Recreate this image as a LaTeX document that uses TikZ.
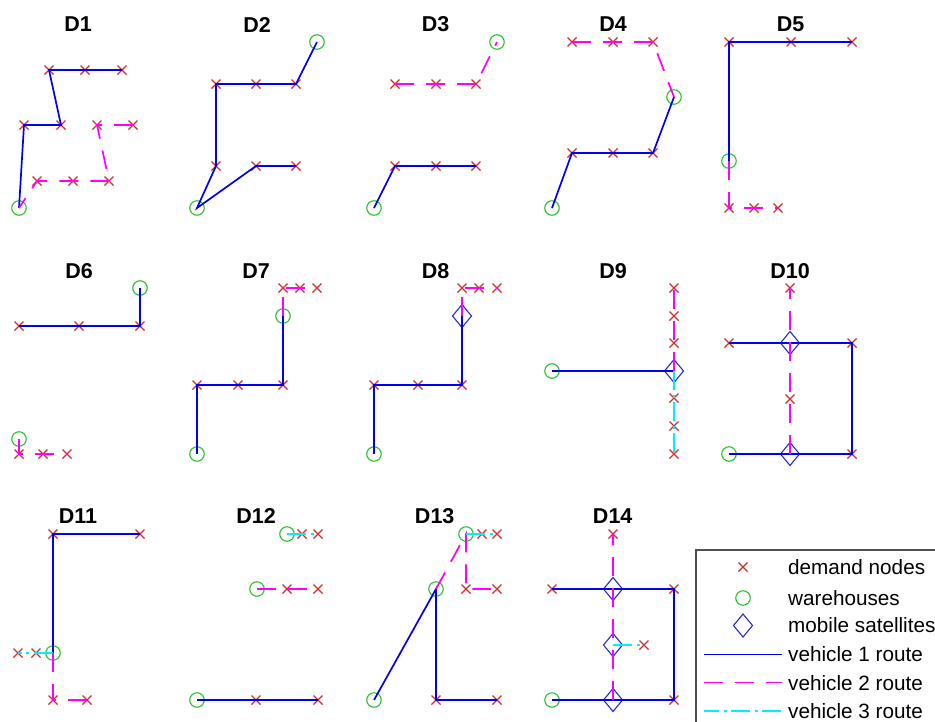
\documentclass[tikz,border=0pt]{standalone}
\usepackage{fontspec}
\setmainfont{Liberation Sans}
\usetikzlibrary{shapes.misc,shapes.geometric}
\definecolor{xred}{RGB}{215,45,45}
\definecolor{wgreen}{RGB}{45,195,45}
\definecolor{vblue}{RGB}{0,0,245}
\definecolor{sblue}{RGB}{40,40,220}
\definecolor{vmag}{RGB}{255,0,255}
\definecolor{vcyan}{RGB}{0,240,255}
\definecolor{boxgray}{RGB}{80,80,80}
\tikzset{
  dem/.style={cross out,draw=xred,line width=1.1pt,minimum size=9pt,inner sep=0pt,outer sep=0pt},
  wh/.style={circle,draw=wgreen,line width=1.1pt,minimum size=14.5pt,inner sep=0pt,outer sep=0pt},
  sat/.style={diamond,draw=sblue,line width=1.1pt,minimum width=19pt,minimum height=23pt,inner sep=0pt,outer sep=0pt},
  vone/.style={draw=vblue,line width=1.7pt},
  vtwo/.style={draw=vmag,line width=1.7pt,dash pattern=on 19pt off 12pt},
  vthree/.style={draw=vcyan,line width=1.7pt,dash pattern=on 19pt off 5pt on 3pt off 4pt},
  ttl/.style={font=\fontsize{21.5}{24}\selectfont\bfseries,inner sep=0pt,anchor=center},
  lgd/.style={font=\fontsize{20.7}{24}\selectfont,inner sep=0pt,anchor=west}
}
\begin{document}
\begin{tikzpicture}[x=1pt,y=-1pt]
\useasboundingbox (0,0) rectangle (935,721);
\fill[white] (0,0) rectangle (935,721);
% titles
\node[ttl] (t1) at (78,24.5) {D1};
\node[ttl] (t2) at (257,24.5) {D2};
\node[ttl] (t3) at (435.5,24.5) {D3};
\node[ttl] (t4) at (613,24.5) {D4};
\node[ttl] (t5) at (790.5,24.5) {D5};
\node[ttl] (t6) at (79,271) {D6};
\node[ttl] (t7) at (256,271) {D7};
\node[ttl] (t8) at (435.5,271) {D8};
\node[ttl] (t9) at (613,271) {D9};
\node[ttl] (t10) at (790,271) {D10};
\node[ttl] (t11) at (78,516) {D11};
\node[ttl] (t12) at (256,516) {D12};
\node[ttl] (t13) at (434.7,516) {D13};
\node[ttl] (t14) at (612.7,516) {D14};
% ---------- D1
\node[wh] (w1a) at (19,208) {};
\node[dem] (d1a) at (49,70) {};
\node[dem] (d1b) at (85,70) {};
\node[dem] (d1c) at (122,70) {};
\node[dem] (d1d) at (24,125) {};
\node[dem] (d1e) at (61,125) {};
\node[dem] (d1f) at (97,125) {};
\node[dem] (d1g) at (133,125) {};
\node[dem] (d1h) at (37,181) {};
\node[dem] (d1i) at (73,181) {};
\node[dem] (d1j) at (109,181) {};
\draw[vone] (w1a.center) -- (d1d.center) -- (d1e.center) -- (d1a.center) -- (d1b.center) -- (d1c.center);
\draw[vtwo] (d1g.center) -- (d1f.center) -- (d1j.center) -- (d1i.center) -- (d1h.center) -- (w1a.center);
% ---------- D2
\node[wh] (w2a) at (317,42) {};
\node[wh] (w2b) at (197,208) {};
\node[dem] (d2a) at (216,84) {};
\node[dem] (d2b) at (256,84) {};
\node[dem] (d2c) at (296,84) {};
\node[dem] (d2d) at (216,166) {};
\node[dem] (d2e) at (256,166) {};
\node[dem] (d2f) at (296,166) {};
\draw[vone] (w2a.center) -- (d2c.center) -- (d2b.center) -- (d2a.center) -- (d2d.center) -- (w2b.center) -- (d2e.center) -- (d2f.center);
% ---------- D3
\node[wh] (w3a) at (497,42) {};
\node[wh] (w3b) at (374,208) {};
\node[dem] (d3a) at (395,84) {};
\node[dem] (d3b) at (436,84) {};
\node[dem] (d3c) at (476,84) {};
\node[dem] (d3d) at (395,166) {};
\node[dem] (d3e) at (436,166) {};
\node[dem] (d3f) at (476,166) {};
\draw[vtwo] (d3a.center) -- (d3b.center) -- (d3c.center) -- (w3a.center);
\draw[vone] (w3b.center) -- (d3d.center) -- (d3e.center) -- (d3f.center);
% ---------- D4
\node[wh] (w4a) at (674,97) {};
\node[wh] (w4b) at (552,208) {};
\node[dem] (d4a) at (572,42) {};
\node[dem] (d4b) at (613,42) {};
\node[dem] (d4c) at (653,42) {};
\node[dem] (d4d) at (572,153) {};
\node[dem] (d4e) at (613,153) {};
\node[dem] (d4f) at (653,153) {};
\draw[vtwo] (d4a.center) -- (d4b.center) -- (d4c.center) -- (w4a.center);
\draw[vone] (w4a.center) -- (d4f.center) -- (d4e.center) -- (d4d.center) -- (w4b.center);
% ---------- D5
\node[wh] (w5a) at (729,161) {};
\node[dem] (d5a) at (729,42) {};
\node[dem] (d5b) at (791,42) {};
\node[dem] (d5c) at (852,42) {};
\node[dem] (d5d) at (729,208) {};
\node[dem] (d5e) at (754,208) {};
\node[dem] (d5f) at (778,208) {};
\draw[vone] (w5a.center) -- (d5a.center) -- (d5b.center) -- (d5c.center);
\draw[vtwo] (w5a.center) -- (d5d.center) -- (d5e.center) -- (d5f.center);
% ---------- D6
\node[wh] (w6a) at (140,288) {};
\node[wh] (w6b) at (19,439) {};
\node[dem] (d6a) at (19,326) {};
\node[dem] (d6b) at (79,326) {};
\node[dem] (d6c) at (140,326) {};
\node[dem] (d6d) at (19,454) {};
\node[dem] (d6e) at (43,454) {};
\node[dem] (d6f) at (67,454) {};
\draw[vone] (w6a.center) -- (d6c.center) -- (d6b.center) -- (d6a.center);
\draw[vtwo] (w6b.center) -- (d6d.center) -- (d6e.center) -- (d6f.center);
% ---------- D7
\node[wh] (w7a) at (283,316) {};
\node[wh] (w7b) at (197,454) {};
\node[dem] (d7a) at (283,288) {};
\node[dem] (d7b) at (300,288) {};
\node[dem] (d7c) at (317,288) {};
\node[dem] (d7d) at (197,385) {};
\node[dem] (d7e) at (238,385) {};
\node[dem] (d7f) at (283,385) {};
\draw[vone] (w7a.center) -- (d7f.center) -- (d7e.center) -- (d7d.center) -- (w7b.center);
\draw[vtwo] (w7a.center) -- (d7a.center) -- (d7b.center) -- (d7c.center);
% ---------- D8
\node[sat] (s8a) at (462,316) {};
\node[wh] (w8a) at (374,454) {};
\node[dem] (d8a) at (462,288) {};
\node[dem] (d8b) at (479,288) {};
\node[dem] (d8c) at (497,288) {};
\node[dem] (d8d) at (374,385) {};
\node[dem] (d8e) at (418,385) {};
\node[dem] (d8f) at (462,385) {};
\draw[vone] (s8a.center) -- (d8f.center) -- (d8e.center) -- (d8d.center) -- (w8a.center);
\draw[vtwo] (s8a.center) -- (d8a.center) -- (d8b.center) -- (d8c.center);
% ---------- D9
\node[wh] (w9a) at (552,371) {};
\node[sat] (s9a) at (674,371) {};
\node[dem] (d9a) at (674,288) {};
\node[dem] (d9b) at (674,316) {};
\node[dem] (d9c) at (674,343) {};
\node[dem] (d9d) at (674,398) {};
\node[dem] (d9e) at (674,426) {};
\node[dem] (d9f) at (674,454) {};
\draw[vone] (w9a.center) -- (s9a.center);
\draw[vtwo] (s9a.center) -- (d9c.center) -- (d9b.center) -- (d9a.center);
\draw[vthree] (s9a.center) -- (d9d.center) -- (d9e.center) -- (d9f.center);
% ---------- D10
\node[wh] (w10a) at (729,454) {};
\node[sat] (s10a) at (790,343) {};
\node[sat] (s10b) at (790,454) {};
\node[dem] (d10a) at (790,288) {};
\node[dem] (d10b) at (729,343) {};
\node[dem] (d10c) at (852,343) {};
\node[dem] (d10d) at (790,399) {};
\node[dem] (d10e) at (852,454) {};
\draw[vone] (d10b.center) -- (s10a.center) -- (d10c.center) -- (d10e.center) -- (s10b.center) -- (w10a.center);
\draw[vtwo] (s10b.center) -- (d10d.center) -- (s10a.center) -- (d10a.center);
% ---------- D11
\node[wh] (w11a) at (53,653) {};
\node[dem] (d11a) at (53,534) {};
\node[dem] (d11b) at (140,534) {};
\node[dem] (d11c) at (36,653) {};
\node[dem] (d11d) at (18,653) {};
\node[dem] (d11e) at (53,700) {};
\node[dem] (d11f) at (87,700) {};
\draw[vone] (w11a.center) -- (d11a.center) -- (d11b.center);
\draw[vthree] (w11a.center) -- (d11c.center) -- (d11d.center);
\draw[vtwo] (w11a.center) -- (d11e.center) -- (d11f.center);
% ---------- D12
\node[wh] (w12a) at (287,534) {};
\node[wh] (w12b) at (257,589) {};
\node[wh] (w12c) at (197,700) {};
\node[dem] (d12a) at (302,534) {};
\node[dem] (d12b) at (318,534) {};
\node[dem] (d12c) at (287,589) {};
\node[dem] (d12d) at (318,589) {};
\node[dem] (d12e) at (256,700) {};
\node[dem] (d12f) at (318,700) {};
\draw[vthree] (w12a.center) -- (d12a.center) -- (d12b.center);
\draw[vtwo] (w12b.center) -- (d12c.center) -- (d12d.center);
\draw[vone] (w12c.center) -- (d12e.center) -- (d12f.center);
% ---------- D13
\node[wh] (w13a) at (466,534) {};
\node[wh] (w13b) at (436,589) {};
\node[wh] (w13c) at (374,700) {};
\node[dem] (d13a) at (482,534) {};
\node[dem] (d13b) at (497,534) {};
\node[dem] (d13c) at (466,589) {};
\node[dem] (d13d) at (497,589) {};
\node[dem] (d13e) at (436,700) {};
\node[dem] (d13f) at (497,700) {};
\draw[vone] (w13c.center) -- (w13b.center) -- (d13e.center) -- (d13f.center);
\draw[vtwo] (w13b.center) -- (w13a.center) -- (d13c.center) -- (d13d.center);
\draw[vthree] (w13a.center) -- (d13a.center) -- (d13b.center);
% ---------- D14
\node[wh] (w14a) at (552,700) {};
\node[sat] (s14a) at (613,589) {};
\node[sat] (s14b) at (613,645) {};
\node[sat] (s14c) at (613,700) {};
\node[dem] (d14a) at (613,534) {};
\node[dem] (d14b) at (552,589) {};
\node[dem] (d14c) at (674,589) {};
\node[dem] (d14d) at (644,645) {};
\node[dem] (d14e) at (674,700) {};
\draw[vone] (d14b.center) -- (s14a.center) -- (d14c.center) -- (d14e.center) -- (s14c.center) -- (w14a.center);
\draw[vtwo] (s14c.center) -- (s14b.center) -- (s14a.center) -- (d14a.center);
\draw[vthree] (s14b.center) -- (d14d.center);
% ---------- legend
\draw[boxgray,line width=1.2pt,fill=white] (696,550) rectangle (945,735);
\node[dem] (ld) at (743,567) {};
\node[wh] (lw) at (743,598) {};
\node[sat] (ls) at (743,625.5) {};
\coordinate (l1a) at (704,654.5);
\coordinate (l1b) at (782,654.5);
\coordinate (l2a) at (704,682.5);
\coordinate (l2b) at (782,682.5);
\coordinate (l3a) at (704,711);
\coordinate (l3b) at (782,711);
\draw[vone] (l1a) -- (l1b);
\draw[vtwo] (l2a) -- (l2b);
\draw[vthree,dash phase=4pt] (l3a) -- (l3b);
\node[lgd] (lt1) at (788,567.5) {demand nodes};
\node[lgd] (lt2) at (788,597.7) {warehouses};
\node[lgd] (lt3) at (788,625.3) {mobile satellites};
\node[lgd] (lt4) at (788,654.3) {vehicle 1 route};
\node[lgd] (lt5) at (788,682.7) {vehicle 2 route};
\node[lgd] (lt6) at (788,711) {vehicle 3 route};
\end{tikzpicture}
\end{document}
